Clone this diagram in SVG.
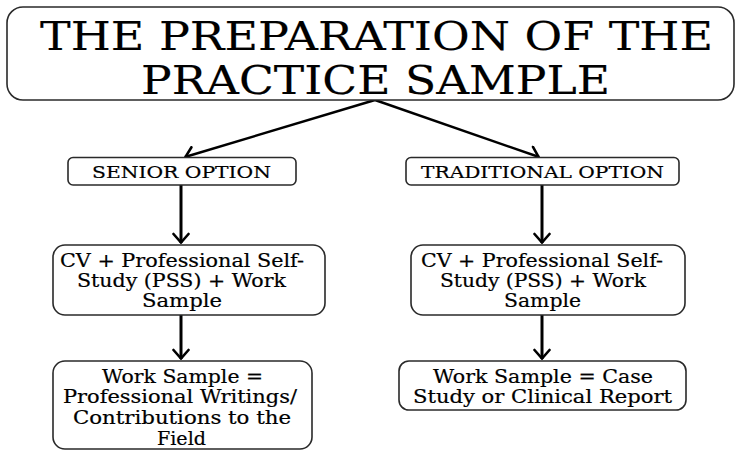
<svg xmlns="http://www.w3.org/2000/svg" width="736" height="452" viewBox="0 0 736 452">
<defs>
<style>
.box{fill:#fff;stroke:#2a2a2a;stroke-width:1.6}
.t{font-family:"DejaVu Serif","Liberation Serif",serif;fill:#000;stroke:#000}
.title{font-size:40px;stroke-width:0.15}
.opt{font-size:16.5px;stroke-width:0.2}
.body{font-size:18px;stroke-width:0.2}
.conn{stroke:#000;fill:none}
</style>
<marker id="arr" viewBox="0 0 12 18" refX="11" refY="9" markerWidth="12" markerHeight="18" markerUnits="userSpaceOnUse" orient="auto">
<path d="M2,1.5 L10.5,9 L2,16.5" fill="none" stroke="#000" stroke-width="2.6" stroke-linecap="round" stroke-linejoin="miter"/>
</marker>
</defs>
<rect width="736" height="452" fill="#fff"/>
<g id="connectors">
<path class="conn" d="M375,100 L185,157" stroke-width="2.4" marker-end="url(#arr)"/>
<path class="conn" d="M375,100 L539,157" stroke-width="2.4" marker-end="url(#arr)"/>
<path class="conn" d="M181,185 L181,243" stroke-width="3" marker-end="url(#arr)"/>
<path class="conn" d="M181,315 L181,359" stroke-width="3" marker-end="url(#arr)"/>
<path class="conn" d="M542,185 L542,243" stroke-width="3" marker-end="url(#arr)"/>
<path class="conn" d="M542,315 L542,359" stroke-width="3" marker-end="url(#arr)"/>
</g>
<g id="title">
<rect class="box" x="7" y="7" width="727" height="93" rx="16"/>
<text class="t title" x="40" y="50" textLength="673" lengthAdjust="spacingAndGlyphs">THE PREPARATION OF THE</text>
<text class="t title" x="141" y="94" textLength="469" lengthAdjust="spacingAndGlyphs">PRACTICE SAMPLE</text>
</g>
<g id="senior">
<rect class="box" x="68" y="157.5" width="228" height="27.5" rx="5"/>
<text class="t opt" x="92" y="178" textLength="179" lengthAdjust="spacingAndGlyphs">SENIOR OPTION</text>
</g>
<g id="traditional">
<rect class="box" x="406" y="157.5" width="273" height="27.5" rx="5"/>
<text class="t opt" x="421" y="178" textLength="243" lengthAdjust="spacingAndGlyphs">TRADITIONAL OPTION</text>
</g>
<g id="cv-senior">
<rect class="box" x="53" y="245" width="272" height="70" rx="12"/>
<text class="t body" x="60" y="267" textLength="244" lengthAdjust="spacingAndGlyphs">CV + Professional Self-</text>
<text class="t body" x="77" y="287" textLength="209" lengthAdjust="spacingAndGlyphs">Study (PSS) + Work</text>
<text class="t body" x="142" y="307" textLength="80" lengthAdjust="spacingAndGlyphs">Sample</text>
</g>
<g id="cv-traditional">
<rect class="box" x="411" y="245" width="274" height="70" rx="12"/>
<text class="t body" x="421" y="267" textLength="242" lengthAdjust="spacingAndGlyphs">CV + Professional Self-</text>
<text class="t body" x="440" y="287" textLength="206" lengthAdjust="spacingAndGlyphs">Study (PSS) + Work</text>
<text class="t body" x="504" y="307" textLength="77" lengthAdjust="spacingAndGlyphs">Sample</text>
</g>
<g id="ws-senior">
<rect class="box" x="53" y="361" width="259" height="88" rx="12"/>
<text class="t body" x="102" y="383" textLength="161" lengthAdjust="spacingAndGlyphs">Work Sample =</text>
<text class="t body" x="63" y="403" textLength="234" lengthAdjust="spacingAndGlyphs">Professional Writings/</text>
<text class="t body" x="73" y="424" textLength="218" lengthAdjust="spacingAndGlyphs">Contributions to the</text>
<text class="t body" x="157" y="445" textLength="49" lengthAdjust="spacingAndGlyphs">Field</text>
</g>
<g id="ws-traditional">
<rect class="box" x="399" y="361" width="287" height="49" rx="10"/>
<text class="t body" x="433" y="383" textLength="220" lengthAdjust="spacingAndGlyphs">Work Sample = Case</text>
<text class="t body" x="413" y="403" textLength="259" lengthAdjust="spacingAndGlyphs">Study or Clinical Report</text>
</g>
</svg>
